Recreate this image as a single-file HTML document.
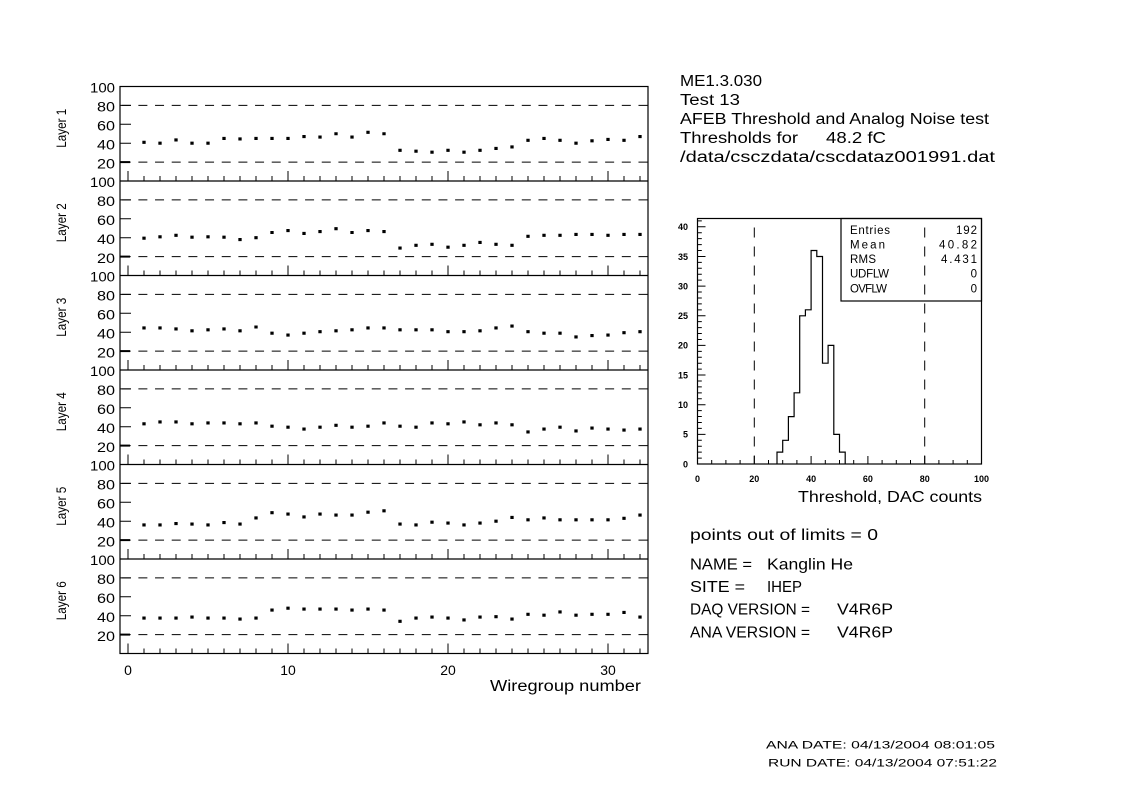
<!DOCTYPE html>
<html>
<head>
<meta charset="utf-8">
<style>
html,body{margin:0;padding:0;background:#fff;}
svg{display:block;}
text{font-family:"Liberation Sans",sans-serif;fill:#000;}
</style>
</head>
<body>
<svg width="1123" height="793" viewBox="0 0 1123 793" xmlns="http://www.w3.org/2000/svg">
<rect x="0" y="0" width="1123" height="793" fill="#fff"/>
<defs>
<g id="pnl">
  <path d="M121.7 -75.6H648M121.7 -18.9H648" stroke="#000" stroke-width="1" stroke-dasharray="9 7.67" fill="none"/>
  <path d="M120 -75.6h11M120 -56.7h11M120 -37.8h11" stroke="#000" stroke-width="1" fill="none"/>
  <path d="M120 -18.9h10" stroke="#000" stroke-width="2" fill="none"/>
  <path d="M128 0v-10M144 0v-5M160 0v-5M176 0v-5M192 0v-5M208 0v-5M224 0v-5M240 0v-5M256 0v-5M272 0v-5M288 0v-10M304 0v-5M320 0v-5M336 0v-5M352 0v-5M368 0v-5M384 0v-5M400 0v-5M416 0v-5M432 0v-5M448 0v-10M464 0v-5M480 0v-5M496 0v-5M512 0v-5M528 0v-5M544 0v-5M560 0v-5M576 0v-5M592 0v-5M608 0v-10M624 0v-5M640 0v-5" stroke="#000" stroke-width="1" fill="none"/>
</g>
</defs>

<!-- Left multi-panel frame -->
<rect x="120" y="86.5" width="528" height="567" fill="none" stroke="#000" stroke-width="1.2"/>
<path d="M120 181H648M120 275.5H648M120 370H648M120 464.5H648M120 559H648" stroke="#000" stroke-width="1.2" fill="none"/>

<use href="#pnl" x="0" y="181"/>
<use href="#pnl" x="0" y="275.5"/>
<use href="#pnl" x="0" y="370"/>
<use href="#pnl" x="0" y="464.5"/>
<use href="#pnl" x="0" y="559"/>
<use href="#pnl" x="0" y="653.5"/>

<!-- Data points -->
<g fill="none" stroke="#000" stroke-width="3.3" stroke-linecap="square">
<path transform="translate(0,181) scale(1,-0.945)" d="M144 41h.01M160 40h.01M176 43.5h.01M192 40h.01M208 40h.01M224 45h.01M240 44.5h.01M256 45h.01M272 45h.01M288 45h.01M304 47h.01M320 46.5h.01M336 50h.01M352 46.5h.01M368 51.5h.01M384 50h.01M400 32.5h.01M416 31.5h.01M432 30.5h.01M448 32.5h.01M464 30.5h.01M480 32.5h.01M496 34.5h.01M512 36h.01M528 43h.01M544 45h.01M560 43h.01M576 40h.01M592 42.5h.01M608 44h.01M624 43h.01M640 47h.01"/>
<path transform="translate(0,275.5) scale(1,-0.945)" d="M144 39.5h.01M160 41h.01M176 42.5h.01M192 40.5h.01M208 41h.01M224 40.5h.01M240 38h.01M256 40h.01M272 45.5h.01M288 47.5h.01M304 44.5h.01M320 46.5h.01M336 49.5h.01M352 45.5h.01M368 47.5h.01M384 46.5h.01M400 29h.01M416 32h.01M432 33h.01M448 30h.01M464 32h.01M480 35h.01M496 33h.01M512 32h.01M528 41.5h.01M544 42.5h.01M560 42.5h.01M576 43.5h.01M592 43.5h.01M608 42.5h.01M624 43.5h.01M640 43.5h.01"/>
<path transform="translate(0,370) scale(1,-0.945)" d="M144 44.5h.01M160 44.5h.01M176 43.5h.01M192 41.5h.01M208 42.5h.01M224 43.5h.01M240 41.5h.01M256 45.5h.01M272 39h.01M288 37h.01M304 39h.01M320 40.5h.01M336 41.5h.01M352 42.5h.01M368 44.5h.01M384 44.5h.01M400 42.5h.01M416 42.5h.01M432 42.5h.01M448 40.5h.01M464 40.5h.01M480 41.5h.01M496 44.5h.01M512 46.5h.01M528 40.5h.01M544 39h.01M560 39h.01M576 35h.01M592 36.5h.01M608 37h.01M624 39.5h.01M640 40.5h.01"/>
<path transform="translate(0,464.5) scale(1,-0.945)" d="M144 43h.01M160 45h.01M176 45h.01M192 43h.01M208 44h.01M224 44h.01M240 43h.01M256 44h.01M272 40.5h.01M288 39.5h.01M304 37.5h.01M320 39.5h.01M336 41.5h.01M352 39.5h.01M368 40.5h.01M384 44h.01M400 40.5h.01M416 39.5h.01M432 44h.01M448 43h.01M464 45h.01M480 42h.01M496 44h.01M512 42h.01M528 34.5h.01M544 37.5h.01M560 39.5h.01M576 35.5h.01M592 38.5h.01M608 37.5h.01M624 36.5h.01M640 37.5h.01"/>
<path transform="translate(0,559) scale(1,-0.945)" d="M144 36h.01M160 36h.01M176 37.5h.01M192 37h.01M208 36h.01M224 38.5h.01M240 37h.01M256 43.5h.01M272 49h.01M288 47.5h.01M304 44.5h.01M320 47.5h.01M336 46.5h.01M352 46.5h.01M368 49.5h.01M384 51h.01M400 37h.01M416 36h.01M432 39h.01M448 38h.01M464 36h.01M480 38h.01M496 40h.01M512 44h.01M528 41.5h.01M544 43.5h.01M560 41.5h.01M576 41.5h.01M592 41.5h.01M608 41.5h.01M624 43h.01M640 46.5h.01"/>
<path transform="translate(0,653.5) scale(1,-0.945)" d="M144 37.5h.01M160 37.5h.01M176 37.5h.01M192 38.5h.01M208 37.5h.01M224 37.5h.01M240 36.5h.01M256 37.5h.01M272 46h.01M288 48h.01M304 47h.01M320 47h.01M336 47h.01M352 46h.01M368 47h.01M384 46h.01M400 34h.01M416 37.5h.01M432 38.5h.01M448 37.5h.01M464 35.5h.01M480 38.5h.01M496 39h.01M512 36.5h.01M528 41.5h.01M544 40.5h.01M560 44h.01M576 40.5h.01M592 41.5h.01M608 41.5h.01M624 43.5h.01M640 38.5h.01"/>
</g>

<!-- Y labels per panel -->
<g font-size="13.5" text-anchor="end">
<g transform="translate(0,181)"><text x="115" y="-88.3" textLength="25" lengthAdjust="spacingAndGlyphs">100</text><text x="115" y="-69.4" textLength="18" lengthAdjust="spacingAndGlyphs">80</text><text x="115" y="-50.5" textLength="18" lengthAdjust="spacingAndGlyphs">60</text><text x="115" y="-31.6" textLength="18" lengthAdjust="spacingAndGlyphs">40</text><text x="115" y="-12.7" textLength="18" lengthAdjust="spacingAndGlyphs">20</text></g>
<g transform="translate(0,275.5)"><text x="115" y="-88.3" textLength="25" lengthAdjust="spacingAndGlyphs">100</text><text x="115" y="-69.4" textLength="18" lengthAdjust="spacingAndGlyphs">80</text><text x="115" y="-50.5" textLength="18" lengthAdjust="spacingAndGlyphs">60</text><text x="115" y="-31.6" textLength="18" lengthAdjust="spacingAndGlyphs">40</text><text x="115" y="-12.7" textLength="18" lengthAdjust="spacingAndGlyphs">20</text></g>
<g transform="translate(0,370)"><text x="115" y="-88.3" textLength="25" lengthAdjust="spacingAndGlyphs">100</text><text x="115" y="-69.4" textLength="18" lengthAdjust="spacingAndGlyphs">80</text><text x="115" y="-50.5" textLength="18" lengthAdjust="spacingAndGlyphs">60</text><text x="115" y="-31.6" textLength="18" lengthAdjust="spacingAndGlyphs">40</text><text x="115" y="-12.7" textLength="18" lengthAdjust="spacingAndGlyphs">20</text></g>
<g transform="translate(0,464.5)"><text x="115" y="-88.3" textLength="25" lengthAdjust="spacingAndGlyphs">100</text><text x="115" y="-69.4" textLength="18" lengthAdjust="spacingAndGlyphs">80</text><text x="115" y="-50.5" textLength="18" lengthAdjust="spacingAndGlyphs">60</text><text x="115" y="-31.6" textLength="18" lengthAdjust="spacingAndGlyphs">40</text><text x="115" y="-12.7" textLength="18" lengthAdjust="spacingAndGlyphs">20</text></g>
<g transform="translate(0,559)"><text x="115" y="-88.3" textLength="25" lengthAdjust="spacingAndGlyphs">100</text><text x="115" y="-69.4" textLength="18" lengthAdjust="spacingAndGlyphs">80</text><text x="115" y="-50.5" textLength="18" lengthAdjust="spacingAndGlyphs">60</text><text x="115" y="-31.6" textLength="18" lengthAdjust="spacingAndGlyphs">40</text><text x="115" y="-12.7" textLength="18" lengthAdjust="spacingAndGlyphs">20</text></g>
<g transform="translate(0,653.5)"><text x="115" y="-88.3" textLength="25" lengthAdjust="spacingAndGlyphs">100</text><text x="115" y="-69.4" textLength="18" lengthAdjust="spacingAndGlyphs">80</text><text x="115" y="-50.5" textLength="18" lengthAdjust="spacingAndGlyphs">60</text><text x="115" y="-31.6" textLength="18" lengthAdjust="spacingAndGlyphs">40</text><text x="115" y="-12.7" textLength="18" lengthAdjust="spacingAndGlyphs">20</text></g>
</g>

<!-- Layer labels -->
<g font-size="14" text-anchor="middle">
<text transform="translate(66,128.25) rotate(-90)" x="0" y="0" textLength="39" lengthAdjust="spacingAndGlyphs">Layer 1</text>
<text transform="translate(66,222.75) rotate(-90)" x="0" y="0" textLength="39" lengthAdjust="spacingAndGlyphs">Layer 2</text>
<text transform="translate(66,317.25) rotate(-90)" x="0" y="0" textLength="39" lengthAdjust="spacingAndGlyphs">Layer 3</text>
<text transform="translate(66,411.75) rotate(-90)" x="0" y="0" textLength="39" lengthAdjust="spacingAndGlyphs">Layer 4</text>
<text transform="translate(66,506.25) rotate(-90)" x="0" y="0" textLength="39" lengthAdjust="spacingAndGlyphs">Layer 5</text>
<text transform="translate(66,600.75) rotate(-90)" x="0" y="0" textLength="39" lengthAdjust="spacingAndGlyphs">Layer 6</text>
</g>

<!-- X axis labels -->
<g font-size="14" text-anchor="middle">
<text x="128" y="675">0</text>
<text x="288" y="675">10</text>
<text x="448" y="675">20</text>
<text x="608" y="675">30</text>
</g>
<text x="490" y="691" font-size="15.5" textLength="151" lengthAdjust="spacingAndGlyphs">Wiregroup number</text>

<!-- Title block -->
<g font-size="15.5">
<text x="680" y="86" textLength="82" lengthAdjust="spacingAndGlyphs">ME1.3.030</text>
<text x="680" y="105" textLength="60" lengthAdjust="spacingAndGlyphs">Test 13</text>
<text x="680" y="124" textLength="309" lengthAdjust="spacingAndGlyphs">AFEB Threshold and Analog Noise test</text>
<text x="680" y="143" textLength="118" lengthAdjust="spacingAndGlyphs">Thresholds for</text>
<text x="826" y="143" textLength="60" lengthAdjust="spacingAndGlyphs">48.2 fC</text>
<text x="680" y="162" textLength="315" lengthAdjust="spacingAndGlyphs">/data/csczdata/cscdataz001991.dat</text>
</g>

<!-- Histogram -->
<rect x="697.5" y="218.5" width="284" height="245.5" fill="none" stroke="#000" stroke-width="1.2"/>
<path d="M754.3 218.5V464M924.7 218.5V464" stroke="#000" stroke-width="1" stroke-dasharray="10 9" stroke-dashoffset="10" fill="none"/>
<path d="M777 464V452.1H782.7V440.3H788.4V416.6H794.1V392.8H799.7V315.8H805.4V309.8H811.1V250.5H816.8V256.5H822.5V363.2H828.1V345.4H833.8V434.4H839.5V452.1H845.2V464" stroke="#000" stroke-width="1.2" fill="none"/>
<!-- x ticks -->
<path d="M711.7 464v-4M725.9 464v-4M740.1 464v-4M754.3 464v-8M768.5 464v-4M782.7 464v-4M796.9 464v-4M811.1 464v-8M825.3 464v-4M839.5 464v-4M853.7 464v-4M867.9 464v-8M882.1 464v-4M896.3 464v-4M910.5 464v-4M924.7 464v-8M938.9 464v-4M953.1 464v-4M967.3 464v-4" stroke="#000" stroke-width="1" fill="none"/>
<!-- y ticks -->
<path d="M697.5 458.07h4.3M697.5 452.14h4.3M697.5 446.21h4.3M697.5 440.28h4.3M697.5 434.35h8M697.5 428.42h4.3M697.5 422.49h4.3M697.5 416.56h4.3M697.5 410.63h4.3M697.5 404.7h8M697.5 398.77h4.3M697.5 392.84h4.3M697.5 386.91h4.3M697.5 380.98h4.3M697.5 375.05h8M697.5 369.12h4.3M697.5 363.19h4.3M697.5 357.26h4.3M697.5 351.33h4.3M697.5 345.4h8M697.5 339.47h4.3M697.5 333.54h4.3M697.5 327.61h4.3M697.5 321.68h4.3M697.5 315.75h8M697.5 309.82h4.3M697.5 303.89h4.3M697.5 297.96h4.3M697.5 292.03h4.3M697.5 286.1h8M697.5 280.17h4.3M697.5 274.24h4.3M697.5 268.31h4.3M697.5 262.38h4.3M697.5 256.45h8M697.5 250.52h4.3M697.5 244.59h4.3M697.5 238.66h4.3M697.5 232.73h4.3M697.5 226.8h8M697.5 220.87h4.3" stroke="#000" stroke-width="1" fill="none"/>
<g font-size="9" font-weight="bold" text-anchor="end">
<text x="688" y="467.3">0</text>
<text x="688" y="437.65">5</text>
<text x="688" y="408">10</text>
<text x="688" y="378.35">15</text>
<text x="688" y="348.7">20</text>
<text x="688" y="319.05">25</text>
<text x="688" y="289.4">30</text>
<text x="688" y="259.75">35</text>
<text x="688" y="230.1">40</text>
</g>
<g font-size="9" font-weight="bold" text-anchor="middle">
<text x="697.5" y="482">0</text>
<text x="754.3" y="482">20</text>
<text x="811.1" y="482">40</text>
<text x="867.9" y="482">60</text>
<text x="924.7" y="482">80</text>
<text x="981.5" y="482">100</text>
</g>
<text x="798" y="502" font-size="16" textLength="184" lengthAdjust="spacingAndGlyphs">Threshold, DAC counts</text>

<!-- Stats box -->
<rect x="841" y="218.5" width="140.5" height="82.5" fill="none" stroke="#000" stroke-width="1.2"/>
<g font-size="11.5">
<text x="850" y="234" textLength="40" lengthAdjust="spacing">Entries</text>
<text x="850" y="248.5" textLength="35" lengthAdjust="spacing">Mean</text>
<text x="850" y="263" textLength="26" lengthAdjust="spacing">RMS</text>
<text x="850" y="277.7" textLength="39" lengthAdjust="spacing">UDFLW</text>
<text x="850" y="292.5" textLength="37" lengthAdjust="spacing">OVFLW</text>
</g>
<g font-size="11.5" text-anchor="end">
<text x="977" y="234" textLength="21" lengthAdjust="spacing">192</text>
<text x="977" y="248.5" textLength="38" lengthAdjust="spacing">40.82</text>
<text x="977" y="263" textLength="36" lengthAdjust="spacing">4.431</text>
<text x="977" y="277.7">0</text>
<text x="977" y="292.5">0</text>
</g>

<!-- Info block -->
<g font-size="16">
<text x="690" y="540" textLength="188" lengthAdjust="spacingAndGlyphs">points out of limits = 0</text>
<text x="690" y="569.5" textLength="62" lengthAdjust="spacingAndGlyphs">NAME =</text>
<text x="767" y="569.5" textLength="86" lengthAdjust="spacingAndGlyphs">Kanglin He</text>
<text x="690" y="592" textLength="55" lengthAdjust="spacingAndGlyphs">SITE =</text>
<text x="767" y="592" textLength="35" lengthAdjust="spacingAndGlyphs">IHEP</text>
<text x="690" y="614.5" textLength="120" lengthAdjust="spacingAndGlyphs">DAQ VERSION =</text>
<text x="837" y="614.5" textLength="56" lengthAdjust="spacingAndGlyphs">V4R6P</text>
<text x="690" y="637.5" textLength="120" lengthAdjust="spacingAndGlyphs">ANA VERSION =</text>
<text x="837" y="637.5" textLength="56" lengthAdjust="spacingAndGlyphs">V4R6P</text>
</g>

<!-- Dates -->
<g font-size="11">
<text x="766" y="748.5" textLength="229" lengthAdjust="spacingAndGlyphs">ANA DATE: 04/13/2004 08:01:05</text>
<text x="768" y="766.5" textLength="229" lengthAdjust="spacingAndGlyphs">RUN DATE: 04/13/2004 07:51:22</text>
</g>
</svg>
</body>
</html>
